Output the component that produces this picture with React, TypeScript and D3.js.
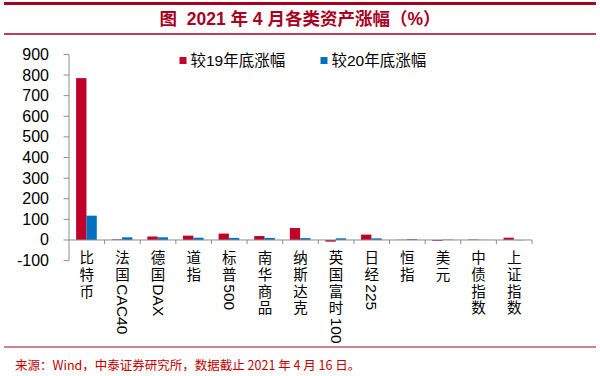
import React from "react";
import * as d3 from "d3";

const categories = ["比特币", "法国CAC40", "德国DAX", "道指", "标普500", "南华商品", "纳斯达克", "英国富时100", "日经225", "恒指", "美元", "中债指数", "上证指数"];
const seriesNames = ["较19年底涨幅", "较20年底涨幅"];
const vs2019 = [785, 3, 17, 21, 31, 19, 58, -8, 26, 1, -4, 2, 11];
const vs2020 = [118, 13, 13, 11, 10, 10, 9, 8, 8, 4, 1.5, 0.5, -1];
const yTicks = [-100, 0, 100, 200, 300, 400, 500, 600, 700, 800, 900];
const colors = ["#C0002A", "#0070C0"];

const W = 600, H = 376;
const FONT = "'Liberation Sans', Arial, 'Noto Sans CJK SC', sans-serif";
const CJK = "'Noto Sans CJK SC', 'Liberation Sans', sans-serif";
const DARKRED = "#A8001E";
const AXIS = "#8C8C8C";

function splitLabel(s: string): { text: string; latin: boolean }[] {
  const parts: { text: string; latin: boolean }[] = [];
  const re = /[A-Za-z0-9]+|[^A-Za-z0-9]/g;
  let m;
  while ((m = re.exec(s)) !== null) {
    parts.push({ text: m[0], latin: /[A-Za-z0-9]/.test(m[0]) });
  }
  return parts;
}

export default function App() {
  const x = d3.scaleBand<string>().domain(categories).range([69, 532]).padding(0);
  const bw = x.bandwidth();
  const xs = d3.scaleBand<number>().domain([0, 1]).range([bw * 0.2, bw * 0.78]).padding(0);
  const y = d3.scaleLinear().domain([-100, 900]).range([260.6, 54.4]);
  const series = [vs2019, vs2020];
  const charStep = 16.7;
  const firstChar = 258.3;

  return (
    <svg width={W} height={H} style={{ position: "absolute", left: 0, top: 0, background: "#fff" }}>
      <rect x={0} y={0} width={W} height={H} fill="#fff" />
      {/* header */}
      <line x1={4} x2={596} y1={3.5} y2={3.5} stroke={DARKRED} strokeWidth={3} />
      <text x={300} y={19} textAnchor="middle" dominantBaseline="central" fill={DARKRED}
        fontFamily={FONT} fontWeight="bold" fontSize={17.5} style={{ whiteSpace: "pre" }}>
        {"图  2021 年 4 月各类资产涨幅（%）"}
      </text>
      <line x1={4} x2={596} y1={34} y2={34} stroke={DARKRED} strokeWidth={1.5} />

      {/* y axis */}
      <line x1={69} x2={69} y1={y(900)} y2={y(-100)} stroke={AXIS} strokeWidth={1} />
      {yTicks.map((t) => (
        <g key={t}>
          <line x1={63.5} x2={69} y1={y(t)} y2={y(t)} stroke={AXIS} strokeWidth={1} />
          <text x={49} y={y(t)} textAnchor="end" dominantBaseline="central" fontFamily={FONT} fontSize={16} fill="#000">
            {t}
          </text>
        </g>
      ))}

      {/* bars */}
      {series.map((vals, si) =>
        vals.map((v, i) => {
          const x0 = (x(categories[i]) as number) + (xs(si) as number);
          const y0 = y(Math.max(0, v));
          const h = Math.abs(y(v) - y(0));
          return <rect key={si + "-" + i} x={x0} y={y0} width={xs.bandwidth()} height={h} fill={colors[si]} />;
        })
      )}

      {/* x axis */}
      <line x1={69} x2={532} y1={y(0)} y2={y(0)} stroke={AXIS} strokeWidth={1} />
      {categories.map((c) => {
        const bx = (x(c) as number) + bw;
        return <line key={"t" + c} x1={bx} x2={bx} y1={y(0)} y2={y(0) + 4} stroke={AXIS} strokeWidth={1} />;
      })}

      {/* x labels: stacked characters, Latin runs rotated */}
      {categories.map((c) => {
        const cx = (x(c) as number) + bw / 2;
        const parts = splitLabel(c);
        let yy = firstChar;
        const els: React.ReactNode[] = [];
        parts.forEach((p, k) => {
          if (!p.latin) {
            els.push(
              <text key={k} x={cx} y={yy} textAnchor="middle" dominantBaseline="central" fontFamily={FONT} fontSize={14.5} fill="#000">
                {p.text}
              </text>
            );
            yy += charStep;
          } else {
            const start = yy - charStep / 2 + 1;
            els.push(
              <text key={k} x={0} y={0} transform={`translate(${cx},${start}) rotate(90)`} textAnchor="start" dominantBaseline="central"
                fontFamily={FONT} fontSize={15.5} fill="#000">
                {p.text}
              </text>
            );
          }
        });
        return <g key={"l" + c}>{els}</g>;
      })}

      {/* legend */}
      {seriesNames.map((n, i) => {
        const lx = i === 0 ? 179.5 : 320.5;
        return (
          <g key={n}>
            <rect x={lx} y={57} width={7} height={7} fill={colors[i]} />
            <text x={lx + 11} y={60.5} dominantBaseline="central" fontFamily={FONT} fontSize={15.5} fill="#000">
              {n}
            </text>
          </g>
        );
      })}

      {/* footer */}
      <line x1={4} x2={596} y1={347} y2={347} stroke={DARKRED} strokeWidth={1} />
      <text x={15} y={364} dominantBaseline="central" fontFamily={CJK} fontSize={12.5} fill="#C00000">
        来源：Wind，中泰证券研究所，数据截止 2021 年 4 月 16 日。
      </text>
    </svg>
  );
}
